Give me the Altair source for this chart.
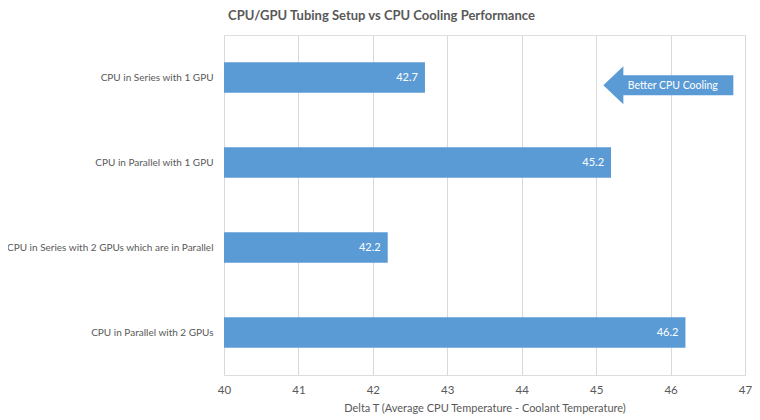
import altair as alt
import pandas as pd

categories = [
    "CPU in Series with 1 GPU",
    "CPU in Parallel with 1 GPU",
    "CPU in Series with 2 GPUs which are in Parallel",
    "CPU in Parallel with 2 GPUs",
]
delta_t = [42.7, 45.2, 42.2, 46.2]
x_ticks = [40, 41, 42, 43, 44, 45, 46, 47]

df = pd.DataFrame({"setup": categories, "delta": delta_t})
df["label"] = df["delta"].map(lambda v: f"{v:.1f}")

FONT = "Lato"
GREY = "#595959"
BLUE = "#5B9BD5"

x_scale = alt.Scale(domain=[40, 47], nice=False, zero=False)
y_scale = alt.Scale(domain=categories, paddingInner=0.64, paddingOuter=0.32)

base = alt.Chart(df)

bars = base.mark_bar(color=BLUE).encode(
    x=alt.X(
        "delta:Q",
        scale=x_scale,
        axis=alt.Axis(
            values=x_ticks,
            format="d",
            labelFlush=False,
            title="Delta T (Average CPU Temperature - Coolant Temperature)",
            grid=True,
            gridColor="#d9d9d9",
            domain=False,
            ticks=False,
            labelPadding=9,
            labelFontSize=11.5,
            labelColor=GREY,
            labelFont=FONT,
            titleFont=FONT,
            titleFontSize=11,
            titleFontWeight="normal",
            titleColor=GREY,
            titlePadding=7,
        ),
    ),
    x2=alt.datum(40),
    y=alt.Y(
        "setup:N",
        scale=y_scale,
        sort=categories,
        axis=alt.Axis(
            title=None,
            domain=False,
            ticks=False,
            labelPadding=11,
            labelFontSize=10,
            labelColor=GREY,
            labelFont=FONT,
            labelLimit=300,
        ),
    ),
)

labels = base.mark_text(
    align="right", baseline="middle", dx=-7, color="white", font=FONT, fontSize=11
).encode(
    x=alt.X("delta:Q", scale=x_scale),
    y=alt.Y("setup:N", scale=y_scale, sort=categories),
    text="label:N",
)

arrow_df = pd.DataFrame(
    {"x": [45.97], "setup": [categories[0]], "text": ["Better CPU Cooling"], "tx": [46.03]}
)
arrow_path = (
    "M -1 0 L -0.692 -0.292 L -0.692 -0.154 L 1 -0.154 L 1 0.154 "
    "L -0.692 0.154 L -0.692 0.292 Z"
)
arrow = alt.Chart(arrow_df).mark_point(
    shape=arrow_path, size=16900, filled=True, fill=BLUE, opacity=1, strokeWidth=0
).encode(
    x=alt.X("x:Q", scale=x_scale),
    y=alt.Y("setup:N", scale=y_scale, sort=categories),
    yOffset=alt.value(23),
)
arrow_text = alt.Chart(arrow_df).mark_text(
    color="white", font=FONT, fontSize=10.5, baseline="middle", dy=8.5
).encode(
    x=alt.X("tx:Q", scale=x_scale),
    y=alt.Y("setup:N", scale=y_scale, sort=categories),
    text="text:N",
)

chart = (
    alt.layer(bars, labels, arrow, arrow_text)
    .properties(
        width=521,
        height=340,
        title=alt.TitleParams(
            "CPU/GPU Tubing Setup vs CPU Cooling Performance",
            font=FONT,
            fontSize=13,
            fontWeight="bold",
            color=GREY,
            anchor="middle",
            dx=-103,
            offset=12,
        ),
        autosize=alt.AutoSizeParams(type="none"),
        padding={"left": 216, "top": 27, "right": 7, "bottom": 40},
    )
    .configure_view(strokeWidth=0, stroke="transparent")
    .configure(background="white")
)

chart.save("out.html", embed_options={"renderer": "svg", "actions": False})
